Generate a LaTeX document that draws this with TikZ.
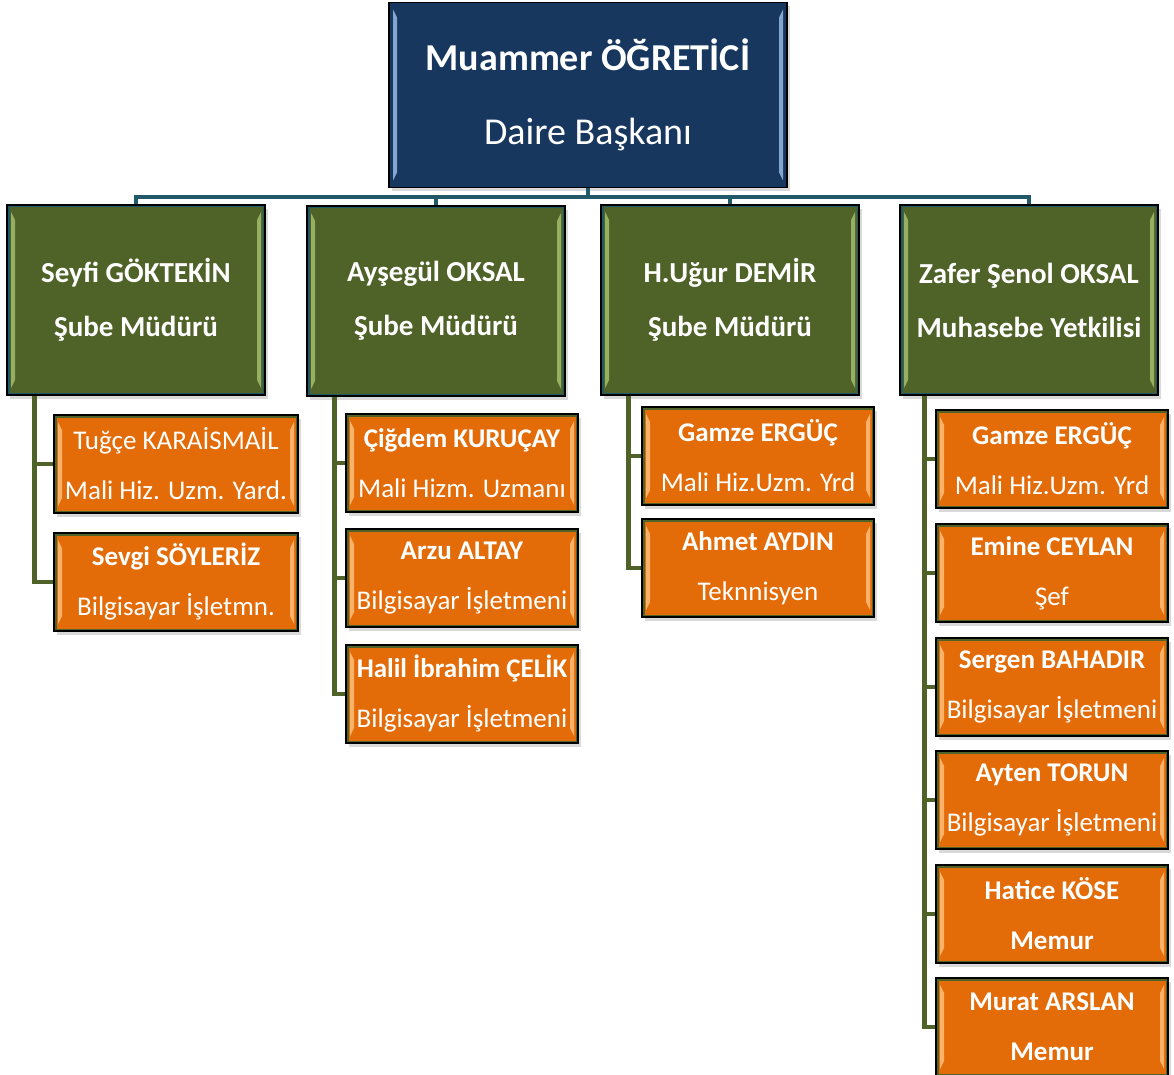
\documentclass[tikz,border=0pt]{standalone}
\usepackage{fontspec}
\setmainfont{Carlito}
\usepackage{tikz}
\usetikzlibrary{shadows}

\definecolor{chiefblue}{RGB}{23,55,94}
\definecolor{headgreen}{RGB}{79,98,40}
\definecolor{stafforange}{RGB}{227,108,9}
\definecolor{busteal}{RGB}{33,89,104}
\definecolor{staffedge}{RGB}{250,178,105}
\definecolor{headedge}{RGB}{150,176,98}
\definecolor{chiefedge}{RGB}{130,165,210}

\tikzset{
  bevel/.style n args={2}{path picture={
    \draw[#2, line width=5pt] (path picture bounding box.south west) rectangle (path picture bounding box.north east);
    \fill[#1] ([shift={(4pt,-7pt)}]path picture bounding box.north west) -- ([shift={(8pt,-15pt)}]path picture bounding box.north west)
      -- ([shift={(8pt,15pt)}]path picture bounding box.south west) -- ([shift={(4pt,7pt)}]path picture bounding box.south west) -- cycle;
    \fill[#1] ([shift={(-4pt,-7pt)}]path picture bounding box.north east) -- ([shift={(-8pt,-15pt)}]path picture bounding box.north east)
      -- ([shift={(-8pt,15pt)}]path picture bounding box.south east) -- ([shift={(-4pt,7pt)}]path picture bounding box.south east) -- cycle;
  }},
  box/.style={draw=black, line width=1.5pt, align=center, text=white,
    drop shadow={shadow xshift=3pt, shadow yshift=-4pt, opacity=.3}},
  chief/.style={box, fill=chiefblue, minimum width=398pt, minimum height=185pt,
    bevel={chiefedge}{chiefblue}, font=\fontsize{38pt}{74pt}\selectfont},
  head/.style={box, fill=headgreen, minimum width=258pt, minimum height=190pt,
    bevel={headedge}{busteal}, font=\bfseries\fontsize{29pt}{54pt}\selectfont},
  staff/.style={box, fill=stafforange, minimum width=232pt, minimum height=98pt,
    bevel={staffedge}{headgreen}, font=\fontsize{27pt}{50pt}\selectfont},
  busline/.style={busteal, line width=4.5pt},
  stemline/.style={headgreen, line width=4.5pt},
}

\begin{document}
\begin{tikzpicture}[x=1pt, y=-1pt]

\useasboundingbox (0,0) rectangle (1174,1075);

\node[chief] (chief) at (588,95) {\textbf{Muammer ÖĞRETİCİ}\\Daire Başkanı};

\node[head] (h1) at (136,300) {Seyfi GÖKTEKİN\\Şube Müdürü};
\node[head] (h2) at (436,301) {Ayşegül OKSAL\\Şube Müdürü};
\node[head] (h3) at (730,300) {H.Uğur DEMİR\\Şube Müdürü};
\node[head] (h4) at (1029,300) {Zafer Şenol OKSAL\\Muhasebe Yetkilisi};

% Seyfi
\node[staff, minimum width=244pt] (s11) at (176,464) {Tuğçe KARAİSMAİL\\Mali Hiz. Uzm. Yard.};
\node[staff, minimum width=244pt] (s12) at (176,582) {\textbf{Sevgi SÖYLERİZ}\\Bilgisayar İşletmn.};

% Aysegul
\node[staff] (s21) at (462,463) {\textbf{Çiğdem KURUÇAY}\\Mali Hizm. Uzmanı};
\node[staff] (s22) at (462,578) {\textbf{Arzu ALTAY}\\Bilgisayar İşletmeni};
\node[staff] (s23) at (462,694) {\textbf{Halil İbrahim ÇELİK}\\Bilgisayar İşletmeni};

% Ugur
\node[staff] (s31) at (758,456) {\textbf{Gamze ERGÜÇ}\\Mali Hiz.Uzm. Yrd};
\node[staff] (s32) at (758,568) {\textbf{Ahmet AYDIN}\\Teknnisyen};

% Zafer
\node[staff] (s41) at (1052,459) {\textbf{Gamze ERGÜÇ}\\Mali Hiz.Uzm. Yrd};
\node[staff] (s42) at (1052,573) {\textbf{Emine CEYLAN}\\Şef};
\node[staff] (s43) at (1052,687) {\textbf{Sergen BAHADIR}\\Bilgisayar İşletmeni};
\node[staff] (s44) at (1052,800) {\textbf{Ayten TORUN}\\Bilgisayar İşletmeni};
\node[staff] (s45) at (1052,914) {\textbf{Hatice KÖSE}\\\textbf{Memur}};
\node[staff] (s46) at (1052,1027) {\textbf{Murat ARSLAN}\\\textbf{Memur}};

% bus
\coordinate (bus) at (588,197);
\draw[busline] (chief.south) -- (bus);
\draw[busline] (h1.north) |- (bus) -| (h4.north);
\draw[busline] (h2.north) -- (h2.north|-bus);
\draw[busline] (h3.north) -- (h3.north|-bus);

% stems
\foreach \s in {s11,s12}
  \draw[stemline] ([xshift=28pt]h1.south west) |- (\s.west);
\foreach \s in {s21,s22,s23}
  \draw[stemline] ([xshift=28pt]h2.south west) |- (\s.west);
\foreach \s in {s31,s32}
  \draw[stemline] ([xshift=28pt]h3.south west) |- (\s.west);
\foreach \s in {s41,s42,s43,s44,s45,s46}
  \draw[stemline] ([xshift=25pt]h4.south west) |- (\s.west);

\end{tikzpicture}
\end{document}
